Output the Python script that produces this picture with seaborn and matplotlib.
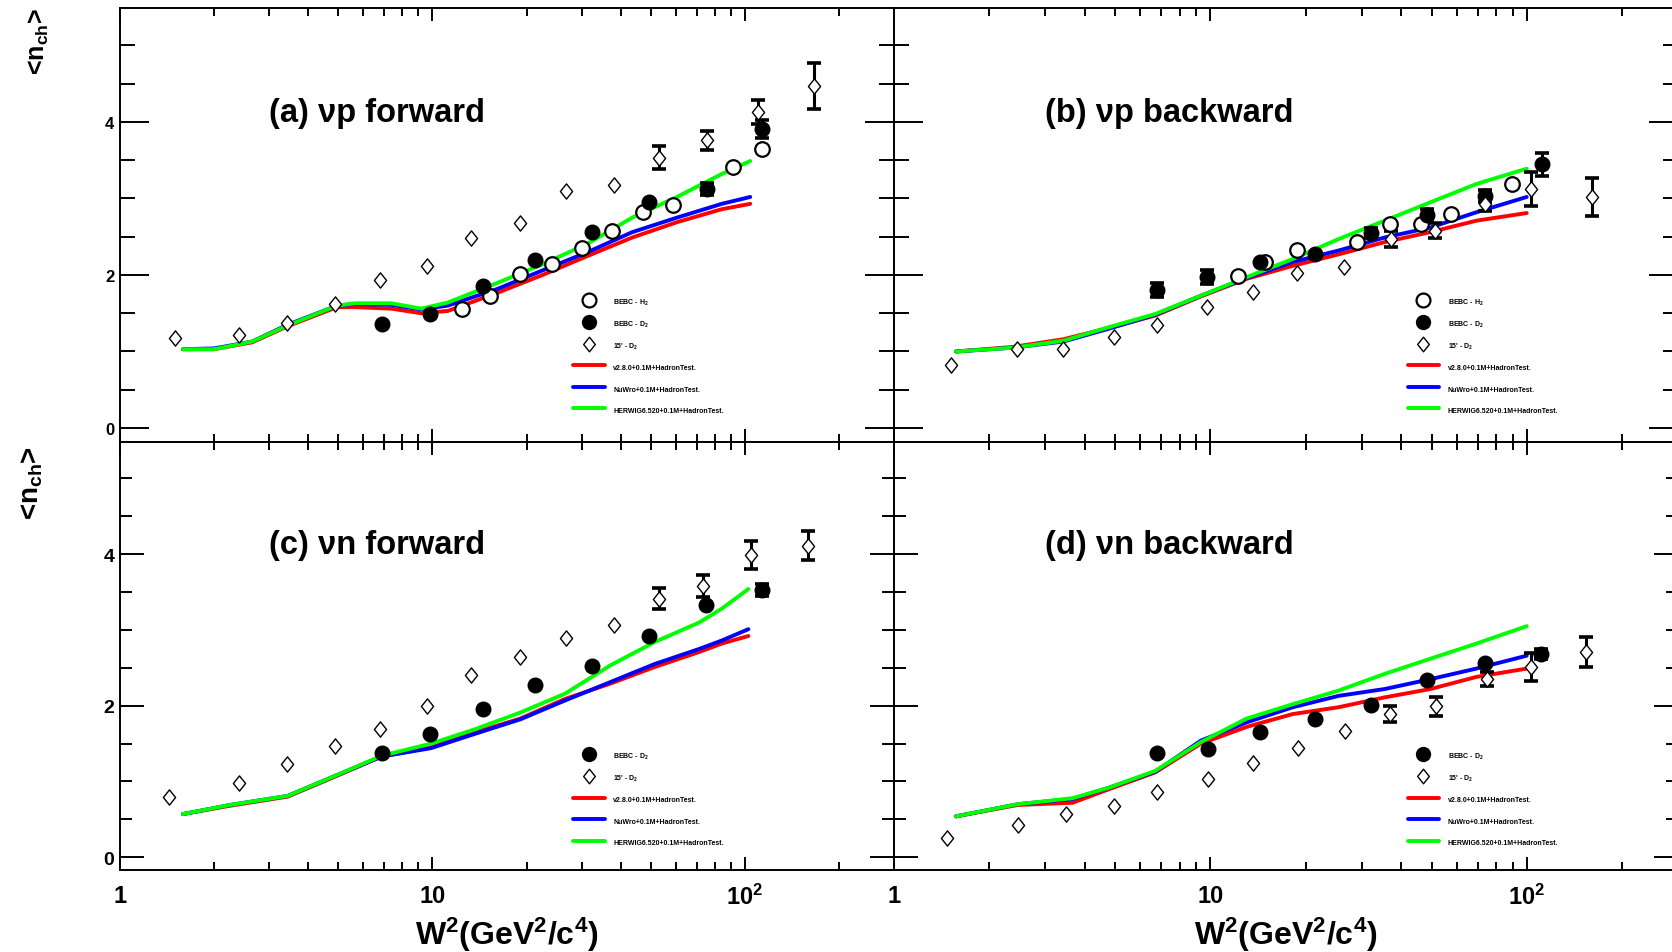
import numpy as np
import pandas as pd
import matplotlib
matplotlib.use("Agg")
import matplotlib.pyplot as plt
import seaborn as sns
from matplotlib.lines import Line2D
from matplotlib.path import Path
from matplotlib.ticker import FixedLocator, FixedFormatter, LogLocator, MultipleLocator, NullFormatter

# ---------------------------------------------------------------- data
# Model curves (W^2 in GeV^2/c^4, <n_ch>)
curve_W_a = [1.59, 2.0, 2.65, 3.44, 4.95, 5.65, 7.4, 9.2, 11.2, 16.2, 22.5, 31.4, 43.6, 60.6, 84.3, 104]
red_a = [1.03, 1.03, 1.12, 1.33, 1.58, 1.58, 1.56, 1.50, 1.53, 1.77, 2.00, 2.25, 2.49, 2.69, 2.86, 2.93]
blue_a = [1.03, 1.04, 1.13, 1.35, 1.60, 1.62, 1.61, 1.55, 1.60, 1.82, 2.06, 2.30, 2.56, 2.75, 2.93, 3.02]
green_a = [1.03, 1.03, 1.13, 1.34, 1.60, 1.63, 1.63, 1.56, 1.64, 1.90, 2.14, 2.41, 2.75, 3.02, 3.32, 3.49]

curve_W_b = [1.57, 2.38, 3.43, 4.79, 6.69, 9.33, 13.0, 18.2, 25.4, 35.5, 49.5, 69.2, 99.8]
red_b = [1.00, 1.06, 1.16, 1.31, 1.47, 1.72, 1.95, 2.12, 2.27, 2.43, 2.56, 2.71, 2.81]
blue_b = [1.00, 1.05, 1.13, 1.30, 1.48, 1.73, 1.96, 2.17, 2.32, 2.49, 2.62, 2.82, 3.02]
green_b = [1.00, 1.05, 1.14, 1.32, 1.49, 1.73, 1.97, 2.21, 2.47, 2.71, 2.95, 3.19, 3.39]

curve_W_c = [1.59, 2.25, 3.44, 4.79, 6.88, 9.9, 13.7, 19.1, 26.6, 37.0, 51.4, 71.5, 84.3, 102.6]
red_c = [0.57, 0.68, 0.80, 1.05, 1.33, 1.45, 1.65, 1.83, 2.09, 2.29, 2.51, 2.71, 2.82, 2.92]
blue_c = [0.57, 0.69, 0.81, 1.06, 1.33, 1.44, 1.63, 1.82, 2.07, 2.31, 2.55, 2.75, 2.86, 3.01]
green_c = [0.57, 0.69, 0.81, 1.06, 1.34, 1.50, 1.69, 1.91, 2.16, 2.53, 2.84, 3.10, 3.28, 3.54]

curve_W_d = [1.57, 2.46, 3.67, 4.79, 6.69, 9.33, 13.0, 18.2, 25.4, 35.5, 49.5, 69.2, 99.8]
red_d = [0.54, 0.69, 0.72, 0.90, 1.12, 1.50, 1.72, 1.89, 1.98, 2.11, 2.22, 2.38, 2.49]
blue_d = [0.54, 0.70, 0.77, 0.92, 1.13, 1.54, 1.78, 1.98, 2.13, 2.22, 2.35, 2.49, 2.66]
green_d = [0.54, 0.70, 0.78, 0.92, 1.14, 1.52, 1.83, 2.02, 2.20, 2.42, 2.62, 2.82, 3.05]

# BEBC - H2 (open circles)
h2_W_a = [12.4, 15.3, 19.0, 24.1, 30.1, 37.6, 47.3, 59.0, 91.5, 113]
h2_n_a = [1.56, 1.73, 2.01, 2.14, 2.35, 2.57, 2.82, 2.91, 3.41, 3.65]
h2_W_b = [12.2, 14.9, 18.7, 29.0, 36.9, 46.4, 57.5, 89.7]
h2_n_b = [1.99, 2.17, 2.33, 2.43, 2.67, 2.67, 2.80, 3.19]

# BEBC - D2 (filled circles)
d2_W_a = [6.88, 9.84, 14.5, 21.3, 32.4, 49.4, 75.8, 113]
d2_n_a = [1.36, 1.49, 1.86, 2.19, 2.56, 2.95, 3.12, 3.91]
d2_e_a = [0, 0, 0, 0, 0, 0, 0.08, 0.12]
d2_W_b = [6.76, 9.72, 14.3, 21.4, 32.1, 48.2, 73.9, 111.5]
d2_n_b = [1.80, 1.97, 2.17, 2.28, 2.55, 2.78, 3.03, 3.45]
d2_e_b = [0.09, 0.09, 0, 0, 0.07, 0.08, 0.08, 0.15]
d2_W_c = [6.88, 9.84, 14.5, 21.3, 32.4, 49.4, 75.1, 113.4]
d2_n_c = [1.38, 1.63, 1.96, 2.27, 2.52, 2.92, 3.33, 3.53]
d2_e_c = [0, 0, 0, 0, 0, 0, 0, 0.08]
d2_W_d = [6.76, 9.82, 14.3, 21.4, 32.1, 48.2, 73.9, 110.4]
d2_n_d = [1.38, 1.43, 1.65, 1.83, 2.01, 2.34, 2.56, 2.68]
d2_e_d = [0, 0, 0, 0, 0, 0, 0, 0.07]

# 15' - D2 (open diamonds)
ft_W_a = [1.50, 2.41, 3.42, 4.87, 6.77, 9.64, 13.3, 19.0, 26.8, 38.2, 53.2, 75.8, 110, 166]
ft_n_a = [1.17, 1.21, 1.37, 1.62, 1.93, 2.12, 2.49, 2.68, 3.10, 3.18, 3.53, 3.76, 4.13, 4.47]
ft_e_a = [0, 0, 0, 0, 0, 0, 0, 0, 0, 0, 0.15, 0.12, 0.16, 0.30]
ft_W_b = [1.51, 2.44, 3.43, 4.95, 6.80, 9.72, 13.6, 18.7, 26.4, 37.3, 51.2, 73.9, 102.6, 160]
ft_n_b = [0.82, 1.03, 1.03, 1.19, 1.34, 1.58, 1.78, 2.03, 2.10, 2.47, 2.58, 2.93, 3.12, 3.02]
ft_e_b = [0, 0, 0, 0, 0, 0, 0, 0, 0, 0.10, 0.10, 0.10, 0.22, 0.25]
ft_W_c = [1.43, 2.40, 3.42, 4.87, 6.77, 9.63, 13.3, 19.0, 26.8, 38.2, 53.2, 73.4, 104.4, 158.6]
ft_n_c = [0.80, 0.98, 1.23, 1.47, 1.69, 1.99, 2.40, 2.64, 2.89, 3.07, 3.41, 3.58, 3.99, 4.11]
ft_e_c = [0, 0, 0, 0, 0, 0, 0, 0, 0, 0, 0.14, 0.14, 0.19, 0.19]
ft_W_d = [1.47, 2.46, 3.49, 4.95, 6.80, 9.82, 13.6, 18.9, 26.7, 36.9, 51.6, 74.5, 103.3, 154]
ft_n_d = [0.25, 0.42, 0.57, 0.68, 0.86, 1.03, 1.25, 1.44, 1.67, 1.89, 1.99, 2.35, 2.51, 2.71]
ft_e_d = [0, 0, 0, 0, 0, 0, 0, 0, 0, 0.10, 0.12, 0.09, 0.18, 0.20]

titles = ["(a) \u03bdp forward", "(b) \u03bdp backward", "(c) \u03bdn forward", "(d) \u03bdn backward"]
data_labels = ["BEBC - H$_2$", "BEBC - D$_2$", "15' - D$_2$"]
model_labels = ["v2.8.0+0.1M+HadronTest.", "NuWro+0.1M+HadronTest.", "HERWIG6.520+0.1M+HadronTest."]
model_colors = ["#ff0000", "#0000ff", "#00ff00"]
x_tick_vals = [1, 10, 100]
x_tick_text = ["1", "10", "10$^2$"]
y_tick_vals = [0, 2, 4]
x_title = "W$^2$(GeV$^2$/c$^4$)"
y_title = "<n$_{ch}$>"

# ---------------------------------------------------------------- style
sns.set_theme(style="ticks")
plt.rcParams["font.family"] = ["Liberation Sans", "DejaVu Sans"]
plt.rcParams["font.weight"] = "bold"
plt.rcParams["mathtext.default"] = "regular"
plt.rcParams["text.color"] = "black"
plt.rcParams["axes.labelcolor"] = "black"
plt.rcParams["axes.edgecolor"] = "black"
plt.rcParams["axes.linewidth"] = 1.4
plt.rcParams["xtick.color"] = "black"
plt.rcParams["ytick.color"] = "black"
plt.rcParams["xtick.labelcolor"] = "black"
plt.rcParams["ytick.labelcolor"] = "black"

diamond = Path([(0, 1), (0.8, 0), (0, -1), (-0.8, 0), (0, 1)],
               [Path.MOVETO, Path.LINETO, Path.LINETO, Path.LINETO, Path.CLOSEPOLY])

FIG_W, FIG_H = 1672, 953
fig = plt.figure(figsize=(FIG_W / 100, FIG_H / 100), dpi=100, facecolor="white")


def add_axes_px(left, top, right, bottom):
    return fig.add_axes([left / FIG_W, 1 - bottom / FIG_H,
                         (right - left) / FIG_W, (bottom - top) / FIG_H])


ax_a = add_axes_px(120, 9, 894, 443)
ax_b = add_axes_px(894, 9, 1678, 443)
ax_c = add_axes_px(120, 443, 894, 871)
ax_d = add_axes_px(894, 443, 1678, 871)


def draw_panel(ax, title, cW, reds, blues, greens, h2, d2, ft, upper, left, leg_xy):
    ax.set_xscale("log")
    curves = pd.concat([
        pd.DataFrame({"W2": cW, "nch": ys, "model": name})
        for name, ys in zip(model_labels, (reds, blues, greens))
    ])
    sns.lineplot(data=curves, x="W2", y="nch", hue="model", hue_order=model_labels,
                 palette=model_colors, estimator=None, sort=False, linewidth=2.8,
                 legend=False, ax=ax, zorder=2)

    # error bars first, markers on top
    for W, n, e in (d2, ft):
        sel = [i for i, v in enumerate(e) if v > 0]
        if sel:
            ax.errorbar([W[i] for i in sel], [n[i] for i in sel], yerr=[e[i] for i in sel],
                        fmt="none", ecolor="black", elinewidth=2.2, capsize=5,
                        capthick=2.6, zorder=3)

    if h2 is not None:
        sns.scatterplot(x=h2[0], y=h2[1], marker="o", s=110, color="white",
                        edgecolor="black", linewidth=1.6, ax=ax, zorder=4)
    sns.scatterplot(x=d2[0], y=d2[1], marker="o", s=110, color="black",
                    edgecolor="black", linewidth=1.0, ax=ax, zorder=5)
    sns.scatterplot(x=ft[0], y=ft[1], marker=diamond, s=120, color="white",
                    edgecolor="black", linewidth=1.0, ax=ax, zorder=5)

    ax.set_xlim(1, 300)
    ax.set_ylim((-0.183, 5.49) if upper else (-0.168, 5.48))
    ax.set_xlabel("")
    ax.set_ylabel("")
    ax.set_facecolor("white")

    ax.xaxis.set_major_locator(FixedLocator(x_tick_vals))
    ax.xaxis.set_major_formatter(FixedFormatter(x_tick_text))
    ax.xaxis.set_minor_locator(LogLocator(base=10, subs=np.arange(2, 10)))
    ax.xaxis.set_minor_formatter(NullFormatter())
    ax.yaxis.set_major_locator(FixedLocator(y_tick_vals))
    ax.yaxis.set_minor_locator(MultipleLocator(0.5))

    ax.tick_params(which="both", direction="in", top=True, right=True, width=1.4)
    ax.tick_params(axis="x", which="major", length=9.5, labelsize=17, pad=10)
    ax.tick_params(axis="x", which="minor", length=5.5)
    ylen = 21 if upper else 17
    ax.tick_params(axis="y", which="major", length=ylen, labelsize=12 if upper else 14, pad=4)
    ax.tick_params(axis="y", which="minor", length=ylen * 0.5)
    ax.tick_params(labelbottom=not upper, labelleft=left)
    for lab in ax.get_xticklabels() + ax.get_yticklabels():
        lab.set_fontweight("bold")

    ax.text(0.192, 0.740, title, transform=ax.transAxes, fontsize=23.5,
            fontweight="bold", ha="left", va="baseline")

    handles = []
    if h2 is not None:
        handles.append(Line2D([], [], ls="none", marker="o", ms=10, mfc="white",
                              mec="black", mew=1.6, label=data_labels[0]))
    handles.append(Line2D([], [], ls="none", marker="o", ms=10, mfc="black",
                          mec="black", label=data_labels[1]))
    handles.append(Line2D([], [], ls="none", marker=diamond, ms=10.5, mfc="white",
                          mec="black", mew=1.0, label=data_labels[2]))
    for c, name in zip(model_colors, model_labels):
        handles.append(Line2D([], [], color=c, lw=2.8, label=name))
    leg = ax.legend(handles=handles, loc="upper left", bbox_to_anchor=leg_xy,
                    frameon=False, fontsize=5, handlelength=4.6, handleheight=2.0,
                    labelspacing=1.56, handletextpad=1.2, borderpad=0, borderaxespad=0)
    for t in leg.get_texts():
        t.set_fontweight("bold")
        t.set_color("black")


draw_panel(ax_a, titles[0], curve_W_a, red_a, blue_a, green_a,
           (h2_W_a, h2_n_a), (d2_W_a, d2_n_a, d2_e_a), (ft_W_a, ft_n_a, ft_e_a),
           upper=True, left=True, leg_xy=(0.585, 0.335))
draw_panel(ax_b, titles[1], curve_W_b, red_b, blue_b, green_b,
           (h2_W_b, h2_n_b), (d2_W_b, d2_n_b, d2_e_b), (ft_W_b, ft_n_b, ft_e_b),
           upper=True, left=False, leg_xy=(0.655, 0.335))
draw_panel(ax_c, titles[2], curve_W_c, red_c, blue_c, green_c,
           None, (d2_W_c, d2_n_c, d2_e_c), (ft_W_c, ft_n_c, ft_e_c),
           upper=False, left=True, leg_xy=(0.585, 0.279))
draw_panel(ax_d, titles[3], curve_W_d, red_d, blue_d, green_d,
           None, (d2_W_d, d2_n_d, d2_e_d), (ft_W_d, ft_n_d, ft_e_d),
           upper=False, left=False, leg_xy=(0.655, 0.279))

# axis titles
fig.text(39 / FIG_W, 1 - 8 / FIG_H, y_title, rotation=90, ha="center", va="top",
         fontsize=18, fontweight="bold")
fig.text(32 / FIG_W, 1 - 446 / FIG_H, y_title, rotation=90, ha="center", va="top",
         fontsize=20, fontweight="bold")
fig.text(507 / FIG_W, 1 - 935 / FIG_H, x_title, ha="center", va="center",
         fontsize=23, fontweight="bold")
fig.text(1286 / FIG_W, 1 - 935 / FIG_H, x_title, ha="center", va="center",
         fontsize=23, fontweight="bold")

fig.savefig("out.png", dpi=100, facecolor="white")
